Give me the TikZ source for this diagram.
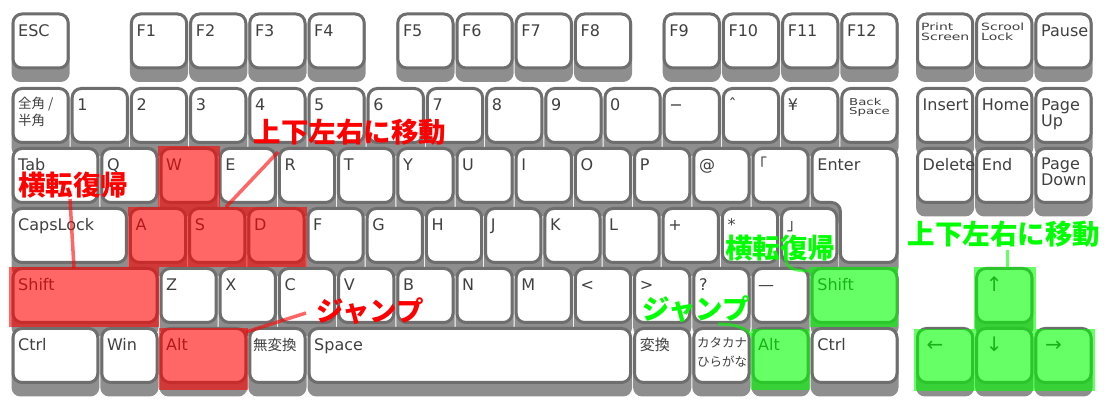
\documentclass[tikz,border=0pt]{standalone}
\usepackage{fontspec}
\setmainfont{DejaVu Sans}
\newfontfamily\jp{Noto Sans CJK JP}
\newfontfamily\widesans{DejaVu Sans}[FakeStretch=1.4]
\usetikzlibrary{calc}

\definecolor{kbline}{HTML}{6E6E6E}
\definecolor{kbskirt}{HTML}{8E8E8E}
\definecolor{kbtext}{HTML}{404040}

\newcommand{\keypitch}{59.2}

\tikzset{
  keyface/.style={draw=kbline, line width=3pt, fill=white, rounded corners=9pt, minimum height=54pt, inner sep=0pt},
  skirt/.style={fill=kbskirt, rounded corners=9pt},
  keylabel/.style={anchor=base west, inner sep=0pt, text=kbtext, font=\fontsize{16}{19}\selectfont},
  arrowlabel/.style={xshift=4pt, yshift=-1pt, font=\fontsize{20}{22}\selectfont},
  redmark/.style={fill=red, fill opacity=0.6},
  greenmark/.style={fill=green, fill opacity=0.6},
  redtag/.style={inner sep=0pt, text=red, font=\jp\bfseries\fontsize{27.5}{30}\selectfont},
  greentag/.style={inner sep=0pt, text=green, font=\jp\bfseries\fontsize{27.5}{30}\selectfont},
  redline/.style={draw=red, draw opacity=0.6, line width=3.5pt},
  greenline/.style={draw=green, draw opacity=0.6, line width=3pt}
}

% one key: skirt, face and label
% \keycap[label options]{name}{left}{top}{width}{label}
\newcommand{\keycap}[6][]{%
  \fill[skirt] ({#3+0.5},{#4+3}) rectangle ({#3+#5-0.5},{#4+69.5});
  \node[keyface, minimum width={(#5)*1pt-4pt}] (#2) at ({#3+#5/2},{#4+28.5}) {};
  \node[keylabel, #1] (#2-t) at ({#3+7},{#4+24}) {#6};
}

\begin{document}
\begin{tikzpicture}[x=1pt, y=-1pt]
  \useasboundingbox (0,0) rectangle (1104,411);

  % function row
  \keycap{esc}{11}{12.5}{\keypitch}{ESC}
  \foreach \i/\x in {1/129.4, 2/188.6, 3/247.8, 4/307, 5/395.8, 6/455, 7/514.2, 8/573.4, 9/662.2, 10/721.4, 11/780.6, 12/839.8}
    {\keycap{f\i}{\x}{12.5}{\keypitch}{F\i}}
  \keycap[anchor=north west, xshift=-1.5pt, yshift=13.5pt, align=left, font=\widesans\fontsize{10}{9.7}\selectfont]{prt}{915.5}{12.5}{\keypitch}{Print\\Screen}
  \keycap[anchor=north west, xshift=-0.7pt, yshift=13.5pt, align=left, font=\widesans\fontsize{10}{9.7}\selectfont]{scr}{974.7}{12.5}{\keypitch}{Scrool\\Lock}
  \keycap{pause}{1033.9}{12.5}{\keypitch}{Pause}

  % number row
  \keycap[anchor=north west, yshift=14.5pt, align=left, font=\jp\fontsize{13.5}{17}\selectfont]{zen}{11}{87}{\keypitch}{全角 /\\半角}
  \foreach \n/\t [count=\c, evaluate=\c as \x using 11+\c*\keypitch] in {n1/1, n2/2, n3/3, n4/4, n5/5, n6/6, n7/7, n8/8, n9/9, n0/0, minus/−, caret/ˆ, yen/¥}
    {\keycap{\n}{\x}{87}{\keypitch}{\t}}
  \keycap[anchor=north west, xshift=2.2pt, yshift=13pt, align=left, font=\widesans\fontsize{9.5}{8.8}\selectfont]{bs}{839.8}{87}{\keypitch}{Back\\Space}
  \keycap{ins}{915.5}{87}{\keypitch}{Insert}
  \keycap{home}{974.7}{87}{\keypitch}{Home}
  \keycap[anchor=north west, yshift=12pt, align=left, font=\fontsize{16}{16}\selectfont]{pgup}{1033.9}{87}{\keypitch}{Page\\Up}

  % top letter row
  \keycap{tab}{11}{147}{88.8}{Tab}
  \foreach \n/\t [count=\c, evaluate=\c as \x using 99.8+(\c-1)*\keypitch] in {q/Q, w/W, e/E, r/R, t/T, y/Y, u/U, i/I, o/O, p/P, atmark/@, lbrack/{\jp\hspace{-7pt}「}}
    {\keycap{\n}{\x}{147}{\keypitch}{\t}}
  % enter spans two rows
  \fill[skirt] (810.7,150) -- (898.5,150) -- (898.5,276.5) -- (838.9,276.5) -- (838.9,216) -- (810.7,216) -- cycle;
  \draw[keyface] (812.2,148.5) -- (897,148.5) -- (897,262.5) -- (840.4,262.5) -- (840.4,202.5) -- (812.2,202.5) -- cycle;
  \node[keylabel] (enter-t) at (817.2,171) {Enter};
  \keycap{del}{915.5}{147}{\keypitch}{Delete}
  \keycap{end}{974.7}{147}{\keypitch}{End}
  \keycap[anchor=north west, yshift=13pt, align=left, font=\fontsize{16}{16}\selectfont]{pgdn}{1033.9}{147}{\keypitch}{Page\\Down}

  % home row
  \keycap{caps}{11}{207}{117.4}{CapsLock}
  \foreach \n/\t [count=\c, evaluate=\c as \x using 128.4+(\c-1)*\keypitch] in {a/A, s/S, d/D, f/F, g/G, h/H, j/J, k/K, l/L, plus/+, ast/*, rbrack/{\jp 」}}
    {\keycap{\n}{\x}{207}{\keypitch}{\t}}

  % shift row
  \keycap{lshift}{11}{267}{148}{Shift}
  \foreach \n/\t [count=\c, evaluate=\c as \x using 159+(\c-1)*\keypitch] in {z/Z, x/X, c/C, v/V, b/B, n/N, m/M, lt/<, gt/>, qm/?, ul/—}
    {\keycap{\n}{\x}{267}{\keypitch}{\t}}
  \keycap{rshift}{810.2}{267}{88.8}{Shift}
  \keycap[arrowlabel]{uarr}{974.7}{267}{\keypitch}{↑}

  % bottom row
  \keycap{lctrl}{11}{327}{88.8}{Ctrl}
  \keycap{win}{99.8}{327}{\keypitch}{Win}
  \keycap{lalt}{159}{327}{88.8}{Alt}
  \keycap[xshift=-2pt, font=\jp\fontsize{14.5}{17}\selectfont]{muhen}{247.8}{327}{\keypitch}{無変換}
  \keycap{space}{307}{327}{325.6}{Space}
  \keycap[font=\jp\fontsize{15}{17}\selectfont]{henkan}{632.6}{327}{\keypitch}{変換}
  \keycap[anchor=north west, xshift=-1.8pt, yshift=13.5pt, align=left, font=\jp\fontsize{12.5}{19}\selectfont]{kana}{691.8}{327}{\keypitch}{カタカナ\\ひらがな}
  \keycap{ralt}{751}{327}{\keypitch}{Alt}
  \keycap{rctrl}{810.2}{327}{88.8}{Ctrl}
  \keycap[arrowlabel]{larr}{915.5}{327}{\keypitch}{←}
  \keycap[arrowlabel]{darr}{974.7}{327}{\keypitch}{↓}
  \keycap[arrowlabel]{rarr}{1033.9}{327}{\keypitch}{→}

  % highlighted keys
  \fill[redmark] (158,146.5) rectangle (219.5,207);
  \fill[redmark] (127.5,207) rectangle (306.5,267);
  \fill[redmark] (9,267) rectangle (159,327);
  \fill[redmark] (158.5,328) rectangle (247.5,390);
  \fill[greenmark] (809.5,267) rectangle (898,327);
  \fill[greenmark] (751,329) rectangle (810,390);
  \fill[greenmark] (974,267) rectangle (1036,329);
  \fill[greenmark] (914,329) rectangle (1095,391);

  % callouts
  \node[redtag] (move-r) at (350,132) {上下左右に移動};
  \node[redtag] (roll-r) at (73,185) {横転復帰};
  \node[redtag] (jump-r) at (370,311) {ジャンプ};
  \node[greentag] (roll-g) at (780,248) {横転復帰};
  \node[greentag] (jump-g) at (696,309) {ジャンプ};
  \node[greentag] (move-g) at (1004,234) {上下左右に移動};

  \coordinate (move-r-a) at (278,152);
  \coordinate (move-r-b) at (226,207);
  \coordinate (roll-r-a) at (70,199);
  \coordinate (roll-r-b) at (74,268);
  \coordinate (jump-r-a) at (306,313);
  \coordinate (jump-r-b) at (246,332);
  \coordinate (roll-g-a) at (786,261);
  \coordinate (roll-g-b) at (811,271);
  \coordinate (jump-g-a) at (718,324);
  \coordinate (jump-g-b) at (752,336);
  \coordinate (move-g-a) at (1007,250);
  \coordinate (move-g-b) at (1007,268);

  \draw[redline] (move-r-a) -- (move-r-b);
  \draw[redline] (roll-r-a) -- (roll-r-b);
  \draw[redline] (jump-r-a) -- (jump-r-b);
  \draw[greenline] (roll-g-a) .. controls (788,270) and (798,271) .. (roll-g-b);
  \draw[greenline] (jump-g-a) .. controls (736,324) and (746,328) .. (jump-g-b);
  \draw[greenline] (move-g-a) -- (move-g-b);
\end{tikzpicture}
\end{document}
